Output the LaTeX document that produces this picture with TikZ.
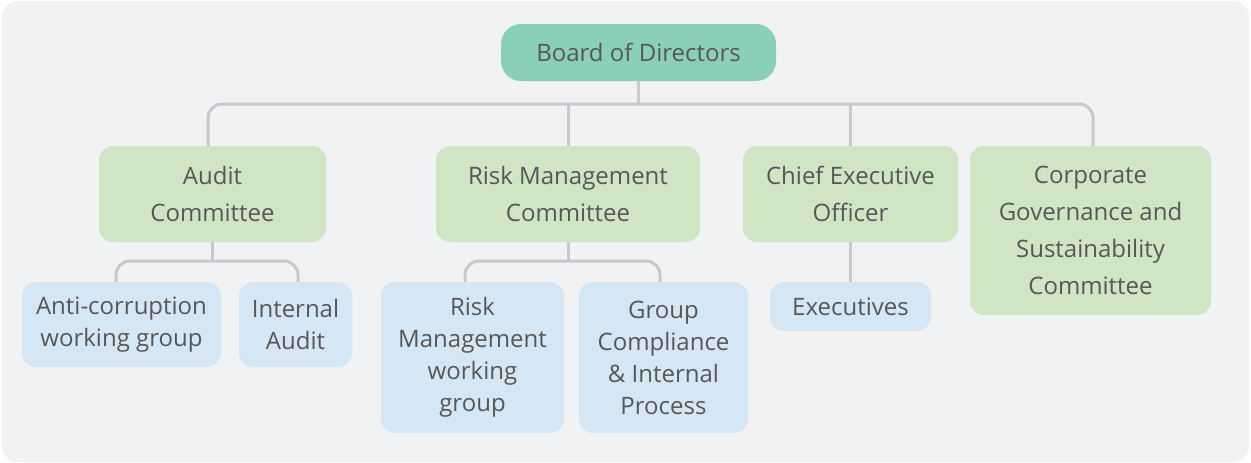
\documentclass[tikz,border=0pt]{standalone}
\usepackage{fontspec}
\setmainfont{Open Sans}
\usetikzlibrary{positioning}
\definecolor{boardgreen}{HTML}{8ACFB8}
\definecolor{cmtgreen}{HTML}{CFE5C4}
\definecolor{unitblue}{HTML}{D5E7F5}
\definecolor{linegray}{HTML}{C8C9CC}
\definecolor{bggray}{HTML}{F1F2F4}
\definecolor{txtgray}{HTML}{575757}

\begin{document}
\begin{tikzpicture}[
    x=1pt, y=-1pt,
    box/.style={
        rectangle,
        rounded corners=14pt,
        inner sep=0pt,
        align=center,
        text=txtgray
    },
    board/.style={box, fill=boardgreen, rounded corners=20pt,
        font=\fontsize{24}{37}\selectfont},
    cmt/.style={box, fill=cmtgreen, font=\fontsize{24}{37}\selectfont},
    unit/.style={box, fill=unitblue, font=\fontsize{24}{32}\selectfont},
    link/.style={draw=linegray, line width=3pt, rounded corners=14pt}
]

% page background
\useasboundingbox (0,0) rectangle (1251,463);
\fill[bggray, rounded corners=16pt] (2,1) rectangle (1249,462);

% top level
\node (bod) [board, minimum width=275, minimum height=57] at (638.5,52.5) {Board of Directors};

% committees
\node (audit) [cmt, minimum width=227, minimum height=96] at (212.5,194) {Audit\\Committee};
\node (risk) [cmt, minimum width=264, minimum height=96] at (568,194) {Risk Management\\Committee};
\node (ceo) [cmt, minimum width=215, minimum height=96] at (850.5,194) {Chief Executive\\Officer};
\node (cgsc) [cmt, minimum width=241, minimum height=169] at (1090.5,230.5) {Corporate\\Governance and\\Sustainability\\Committee};

% working units
\node (anti) [unit, minimum width=199, minimum height=85] at (121.5,324.5) {Anti-corruption\\working group};
\node (ia) [unit, minimum width=113, minimum height=85] at (295.5,324.5) {Internal\\Audit};
\node (rmwg) [unit, minimum width=183, minimum height=151] at (472.5,357.5) {Risk\\Management\\working\\group};
\node (gcip) [unit, minimum width=169, minimum height=151] at (663.5,357.5) {Group\\Compliance\\\& Internal\\Process};
\node (exec) [unit, minimum width=161, minimum height=49] at (850.5,306.5) {Executives};

% connectors
\coordinate (bus) at (638.5,104);
\draw[link] (bod) -- (bus);
\draw[link] (audit.north -| 208,0) |- (bus) -| (cgsc.north -| 1093,0);
\draw[link] (risk) -- (risk.north |- bus);
\draw[link] (ceo) -- (ceo.north |- bus);

\coordinate (abus) at (212.5,261);
\draw[link] (audit) -- (abus);
\draw[link] (anti.north -| 116,0) |- (abus) -| (ia.north -| 298,0);

\coordinate (rbus) at (568,261);
\draw[link] (risk) -- (rbus);
\draw[link] (rmwg.north -| 465,0) |- (rbus) -| (gcip.north -| 660,0);

\draw[link] (ceo) -- (exec);

\end{tikzpicture}
\end{document}
